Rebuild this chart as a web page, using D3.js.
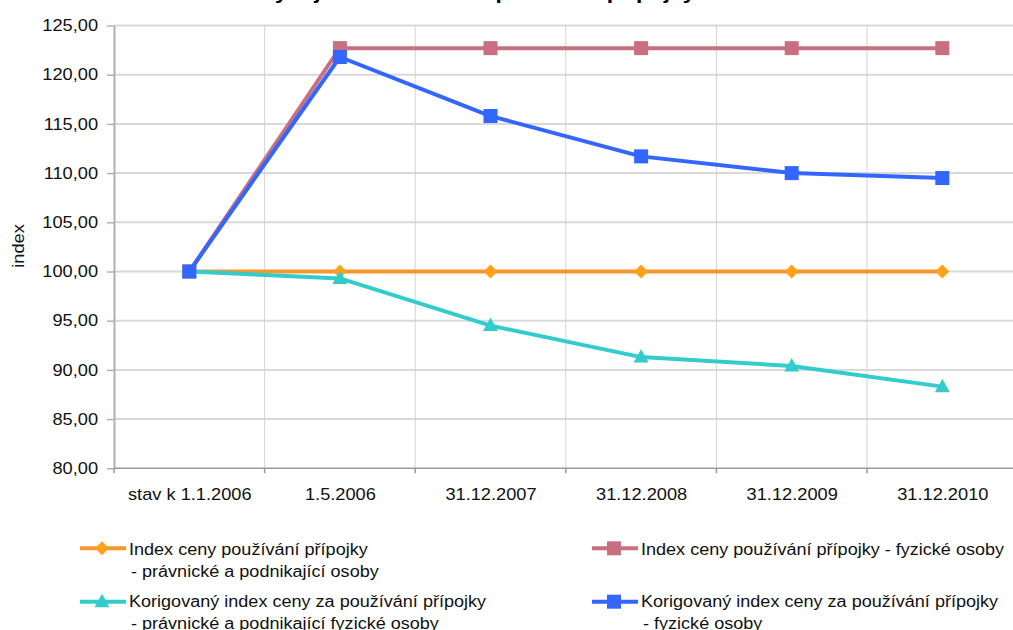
<!DOCTYPE html>
<html><head><meta charset="utf-8">
<script src="https://cdn.jsdelivr.net/npm/d3@7"></script>
<style>
body{margin:0;background:#fff;}
svg{display:block;font-family:"Liberation Sans",Arial,sans-serif;}
</style></head>
<body>
<svg id="chart" width="1013" height="630"></svg>
<script>
const categories = ["stav k 1.1.2006","1.5.2006","31.12.2007","31.12.2008","31.12.2009","31.12.2010"];
const orangeValues = [100,100,100,100,100,100];
const pinkValues = [100,122.7,122.7,122.7,122.7,122.7];
const tealValues = [100,99.3,94.5,91.3,90.4,88.3];
const blueValues = [100,121.8,115.8,111.7,110.0,109.5];
const yTicks = [80,85,90,95,100,105,110,115,120,125];
const titleText = "Porovnání vývoje indexů cen za používání přípojky";
const yLabel = "index";

const series = [
  {name:["Index ceny používání přípojky","- právnické a podnikající osoby"], values:orangeValues, color:"#F7962F", marker:"diamond", mcolor:"#FFA21A"},
  {name:["Index ceny používání přípojky - fyzické osoby"], values:pinkValues, color:"#C96F80", marker:"square", mcolor:"#C96F80"},
  {name:["Korigovaný index ceny za  používání přípojky","- právnické a podnikající fyzické osoby"], values:tealValues, color:"#33CCCC", marker:"triangle", mcolor:"#33CCCC"},
  {name:["Korigovaný index ceny za používání přípojky","- fyzické osoby"], values:blueValues, color:"#3366FF", marker:"square", mcolor:"#3366FF"}
];

const SX = 1.14;
const svg = d3.select("#chart");
const pLeft = 114, pRight = 1017.6, pTop = 25.5, pBottom = 468.3;

const xBand = d3.scaleBand().domain(categories).range([pLeft,pRight]).padding(0);
const x = d3.scalePoint().domain(categories).range([pLeft,pRight]).padding(0.5);
const y = d3.scaleLinear().domain([80,125]).range([pBottom,pTop]);

// title (cut off at top)
svg.append("text").attr("transform",`translate(420,-1) scale(${SX},1)`)
  .attr("text-anchor","middle").attr("font-size",20).attr("font-weight","bold").attr("fill","#000").text(titleText);

// horizontal grid
svg.append("g").selectAll("line").data(yTicks.filter(d=>d>80)).join("line")
  .attr("x1",pLeft).attr("x2",1013).attr("y1",d=>y(d)).attr("y2",d=>y(d))
  .attr("stroke","#D9D9D9").attr("stroke-width",2);
// vertical grid
const bounds = categories.slice(1).map(c=>xBand(c));
svg.append("g").selectAll("line").data(bounds).join("line")
  .attr("x1",d=>d).attr("x2",d=>d).attr("y1",pTop).attr("y2",pBottom)
  .attr("stroke","#D4D4D4").attr("stroke-width",1);

// y axis
const yAxis = svg.append("g").attr("transform",`translate(${pLeft},0)`)
  .call(d3.axisLeft(y).tickValues(yTicks).tickSizeInner(7).tickSizeOuter(0).tickPadding(7)
    .tickFormat(d=>d3.format(".2f")(d).replace(".",",")));
yAxis.select(".domain").attr("stroke","#B0B0B0").attr("stroke-width",2);
yAxis.selectAll(".tick line").attr("stroke","#B0B0B0").attr("stroke-width",1.5);
yAxis.selectAll("text").attr("font-size",16).attr("fill","#111")
  .attr("font-family","Liberation Sans, Arial, sans-serif")
  .attr("transform",`scale(${SX},1)`);

// x axis
const xAxisG = svg.append("g").attr("transform",`translate(0,${pBottom})`);
xAxisG.append("line").attr("x1",pLeft).attr("x2",1013).attr("y1",0).attr("y2",0)
  .attr("stroke","#9A9A9A").attr("stroke-width",1.5);
xAxisG.selectAll("line.tk").data([pLeft].concat(bounds)).join("line").attr("class","tk")
  .attr("x1",d=>d).attr("x2",d=>d).attr("y1",0).attr("y2",5)
  .attr("stroke","#9A9A9A").attr("stroke-width",1.5);
const xAxis = svg.append("g").attr("transform",`translate(0,${pBottom})`)
  .call(d3.axisBottom(x).tickSize(0).tickPadding(20.6));
xAxis.select(".domain").remove();
xAxis.selectAll("text").attr("font-size",16).attr("fill","#111")
  .attr("font-family","Liberation Sans, Arial, sans-serif")
  .attr("transform",`scale(${SX},1)`);

// y label
svg.append("text").attr("transform",`translate(24,246) rotate(-90) scale(${SX},1)`)
  .attr("text-anchor","middle").attr("font-size",16).attr("fill","#111").text(yLabel);

function drawMarker(g, type, cx, cy, color){
  if(type==="diamond"){
    g.append("path").attr("d",`M${cx},${cy-7}L${cx+7},${cy}L${cx},${cy+7}L${cx-7},${cy}Z`).attr("fill",color);
  } else if(type==="square"){
    g.append("rect").attr("x",cx-7).attr("y",cy-7).attr("width",14).attr("height",14).attr("fill",color);
  } else {
    g.append("path").attr("d",`M${cx},${cy-8}L${cx+7.5},${cy+5.5}L${cx-7.5},${cy+5.5}Z`).attr("fill",color);
  }
}

const line = d3.line().x((d,i)=>x(categories[i])).y(d=>y(d));
series.forEach(s=>{
  const g = svg.append("g");
  g.append("path").attr("d",line(s.values)).attr("fill","none").attr("stroke",s.color)
    .attr("stroke-width",4).attr("stroke-linejoin","round");
  s.values.forEach((v,i)=>drawMarker(g,s.marker,x(categories[i]),y(v),s.mcolor));
});

// legend
const legendPos = [
  {lx:80, ly:548.3, tx:129, ty:555},
  {lx:592, ly:548.3, tx:641, ty:555},
  {lx:80, ly:601.7, tx:129, ty:607},
  {lx:592, ly:601.7, tx:641, ty:607}
];
series.forEach((s,i)=>{
  const p = legendPos[i];
  const g = svg.append("g");
  g.append("line").attr("x1",p.lx).attr("x2",p.lx+46).attr("y1",p.ly).attr("y2",p.ly)
    .attr("stroke",s.color).attr("stroke-width",4);
  drawMarker(g,s.marker,p.lx+22,p.ly,s.mcolor);
  s.name.forEach((t,j)=>{
    g.append("text").attr("transform",`translate(${p.tx + (j>0?2:0)},${p.ty + j*22}) scale(${SX*0.99},1)`)
      .attr("font-size",16).attr("fill","#111").text(t);
  });
});
</script>
</body></html>
